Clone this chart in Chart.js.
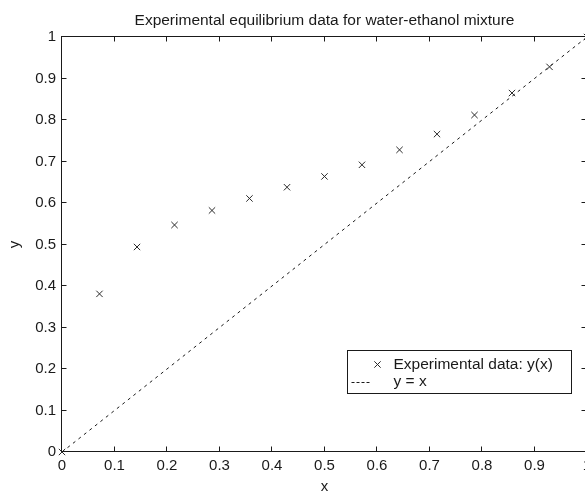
<!DOCTYPE html>
<html>
<head>
<meta charset="utf-8">
<script src="https://cdn.jsdelivr.net/npm/chart.js@4.4.1/dist/chart.umd.min.js"></script>
<style>
  html, body { margin: 0; padding: 0; background: #fff; overflow: hidden; }
  #wrap { width: 600px; height: 497px; }
</style>
</head>
<body>
<div id="wrap"><canvas id="vle" width="600" height="497"></canvas></div>
<script>
const liquidX = [0, 0.0714, 0.1429, 0.2143, 0.2857, 0.3571, 0.4286, 0.5, 0.5714, 0.6429, 0.7143, 0.7857, 0.8571, 0.9286, 1];
const vapourY = [0, 0.381, 0.494, 0.547, 0.582, 0.611, 0.638, 0.664, 0.692, 0.728, 0.766, 0.812, 0.865, 0.928, 1];
const diagonalX = [0, 1];
const diagonalY = [0, 1];
const axisTicks = [0, 0.1, 0.2, 0.3, 0.4, 0.5, 0.6, 0.7, 0.8, 0.9, 1];
const tickLabels = ['0', '0.1', '0.2', '0.3', '0.4', '0.5', '0.6', '0.7', '0.8', '0.9', '1'];

const fontFamily = '"Liberation Sans", Arial, Helvetica, sans-serif';
const ink = '#1a1a1a';

const crisp = (v) => Math.round(v) + 0.5;

// box round the axes with inward ticks, plus the legend inside the plot
const matlabAxes = {
  id: 'matlabAxes',
  afterDraw(chart) {
    const { ctx, chartArea: a, scales } = chart;
    const x = scales.x;
    const y = scales.y;
    const tickLen = 5;
    ctx.save();
    ctx.strokeStyle = ink;
    ctx.lineWidth = 1;
    ctx.setLineDash([]);
    const l = crisp(a.left) - 1, r = crisp(a.right) - 1;
    const t = crisp(a.top) - 1, b = crisp(a.bottom) - 1;
    ctx.strokeRect(l, t, r - l, b - t);
    ctx.beginPath();
    x.ticks.forEach((tk) => {
      const px = crisp(x.getPixelForValue(tk.value)) - 1;
      ctx.moveTo(px, b); ctx.lineTo(px, b - tickLen);
      ctx.moveTo(px, t); ctx.lineTo(px, t + tickLen);
    });
    y.ticks.forEach((tk) => {
      const py = crisp(y.getPixelForValue(tk.value)) - 1;
      ctx.moveTo(l, py); ctx.lineTo(l + tickLen, py);
      ctx.moveTo(r, py); ctx.lineTo(r - tickLen, py);
    });
    ctx.stroke();

    // legend
    const boxL = crisp(a.right - 240), boxT = crisp(a.bottom - 102);
    const boxW = 224, boxH = 43;
    ctx.fillStyle = '#fff';
    ctx.fillRect(boxL, boxT, boxW, boxH);
    ctx.strokeRect(boxL, boxT, boxW, boxH);
    ctx.font = '15.5px ' + fontFamily;
    ctx.textBaseline = 'middle';
    ctx.textAlign = 'left';
    chart.data.datasets.forEach((ds, i) => {
      const rowY = boxT + 14 + i * 17;
      ctx.strokeStyle = ds.borderColor;
      if (ds.showLine) {
        ctx.setLineDash([3, 2]);
        ctx.beginPath();
        ctx.moveTo(boxL + 4, crisp(rowY));
        ctx.lineTo(boxL + 24, crisp(rowY));
        ctx.stroke();
        ctx.setLineDash([]);
      } else {
        Chart.helpers.drawPoint(ctx, {
          pointStyle: ds.pointStyle,
          radius: ds.pointRadius,
          borderWidth: 1
        }, boxL + 30, rowY);
      }
      ctx.fillStyle = ink;
      ctx.fillText(ds.label, boxL + 46, rowY);
    });
    ctx.restore();
  }
};

const toPoints = (xs, ys) => xs.map((v, i) => ({ x: v, y: ys[i] }));
const useTicks = (scale) => {
  scale.ticks = axisTicks.map((v) => ({ value: v }));
};
const tickText = (value, index) => tickLabels[index];

new Chart(document.getElementById('vle'), {
  type: 'scatter',
  data: {
    datasets: [
      {
        label: 'Experimental data: y(x)',
        data: toPoints(liquidX, vapourY),
        showLine: false,
        clip: false,
        pointStyle: 'crossRot',
        pointRadius: 4.5,
        pointBorderWidth: 1,
        borderColor: '#2a2a2a',
        backgroundColor: '#2a2a2a'
      },
      {
        label: 'y = x',
        data: toPoints(diagonalX, diagonalY),
        showLine: true,
        borderDash: [3, 4],
        borderWidth: 1,
        borderColor: '#1a1a1a',
        pointRadius: 0
      }
    ]
  },
  options: {
    responsive: false,
    animation: false,
    layout: { padding: { left: 0, right: 13, top: 0, bottom: 0 } },
    plugins: {
      legend: { display: false },
      tooltip: { enabled: false },
      title: {
        display: true,
        text: 'Experimental equilibrium data for water-ethanol mixture',
        fullSize: false,
        color: ink,
        font: { family: fontFamily, size: 15.5, weight: 'normal' },
        padding: { top: 11, bottom: 7.4 }
      }
    },
    scales: {
      x: {
        type: 'linear',
        min: 0,
        max: 1,
        afterBuildTicks: useTicks,
        afterFit: (s) => { s.height = 45; },
        grid: { display: false, drawTicks: false },
        border: { display: false },
        ticks: {
          color: ink,
          padding: 5,
          maxRotation: 0,
          callback: tickText,
          font: { family: fontFamily, size: 15 }
        },
        title: {
          display: true,
          text: 'x',
          color: ink,
          font: { family: fontFamily, size: 15 },
          padding: { top: 0, bottom: 1 }
        }
      },
      y: {
        type: 'linear',
        min: 0,
        max: 1,
        afterBuildTicks: useTicks,
        afterFit: (s) => { s.width = 62; },
        grid: { display: false, drawTicks: false },
        border: { display: false },
        ticks: {
          color: ink,
          padding: 6,
          callback: tickText,
          font: { family: fontFamily, size: 15 }
        },
        title: {
          display: true,
          text: 'y',
          color: ink,
          font: { family: fontFamily, size: 15 },
          padding: { top: 6, bottom: 0 }
        }
      }
    }
  },
  plugins: [matlabAxes]
});
</script>
</body>
</html>
